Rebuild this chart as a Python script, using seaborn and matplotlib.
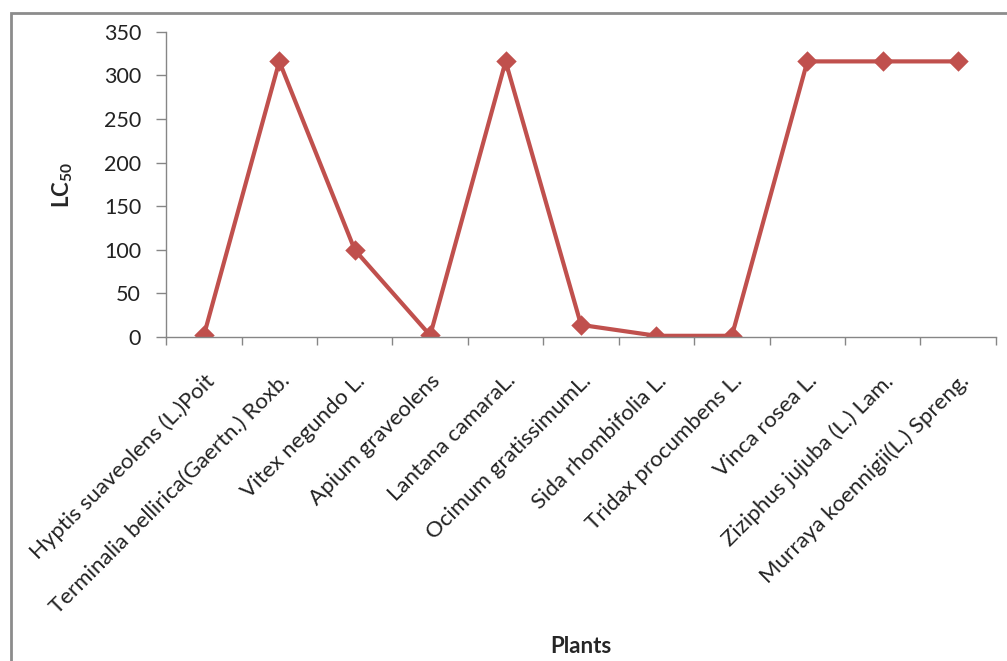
import matplotlib
matplotlib.use("Agg")
import matplotlib.pyplot as plt
import seaborn as sns
from matplotlib.patches import Rectangle

plants = ["Hyptis suaveolens (L.)Poit", "Terminalia bellirica(Gaertn.) Roxb.",
          "Vitex negundo L.", "Apium graveolens", "Lantana camaraL.",
          "Ocimum gratissimumL.", "Sida rhombifolia L.", "Tridax procumbens L.",
          "Vinca rosea L.", "Ziziphus jujuba (L.) Lam.", "Murraya koennigii(L.) Spreng."]
lc50 = [2, 316, 100, 2, 316, 14, 1.5, 1.5, 316, 316, 316]
yticks = [0, 50, 100, 150, 200, 250, 300, 350]

sns.set_style("white")
plt.rcParams["font.family"] = ["Lato", "DejaVu Sans"]
plt.rcParams["mathtext.fontset"] = "custom"
plt.rcParams["mathtext.rm"] = "Lato"
plt.rcParams["mathtext.bf"] = "Lato:bold"

red = "#C0504D"
grey = "#868686"

fig = plt.figure(figsize=(10.07, 6.61), dpi=100)
ax = fig.add_axes([0.165, 0.490, 0.824, 0.462])

sns.pointplot(x=plants, y=lc50, color=red, markers="D", linestyles="-",
              ax=ax, linewidth=3.0, markersize=8.5)

ax.set_xlim(-0.5, len(plants) - 0.5)
ax.set_ylim(0, 350)
ax.set_yticks(yticks)
ax.tick_params(axis="y", which="major", left=True, length=7, width=1,
               color=grey, labelsize=15.5, pad=11, labelcolor="#222222")
ax.set_xticks(range(len(plants)))
ax.set_xticklabels(plants, rotation=45, ha="right", rotation_mode="anchor",
                   fontsize=16, color="#222222")
ax.set_xticks([i - 0.5 for i in range(len(plants) + 1)], minor=True)
ax.tick_params(axis="x", which="major", length=0, pad=24)
ax.tick_params(axis="x", which="minor", bottom=True, length=6, width=1, color=grey)

for s in ["top", "right"]:
    ax.spines[s].set_visible(False)
for s in ["left", "bottom"]:
    ax.spines[s].set_color(grey)
    ax.spines[s].set_linewidth(1)

ax.set_xlabel("")
ax.set_ylabel("")
fig.text(0.062, 0.72, r"$\mathbf{LC_{50}}$", rotation=90, fontsize=16,
         ha="center", va="center")
fig.text(0.577, 0.022, "Plants", fontsize=16, fontweight="bold",
         ha="center", va="center")

fig.patches.append(Rectangle((0.011, -0.1), 1.2, 1.08, transform=fig.transFigure,
                             fill=False, edgecolor="#8c8c8c", linewidth=2))

fig.savefig("out.png", dpi=100)
